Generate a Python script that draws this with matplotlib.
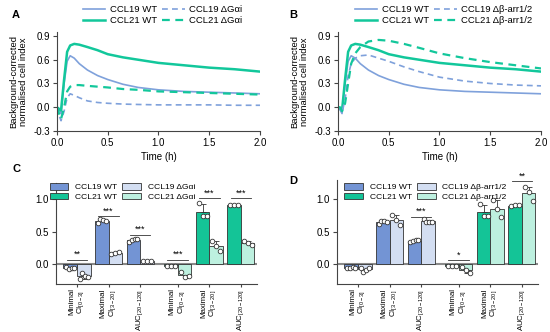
import numpy as np
import matplotlib
matplotlib.use("Agg")
import matplotlib.pyplot as plt
from matplotlib.patches import Patch
from matplotlib.lines import Line2D

plt.rcParams['font.family'] = ['Liberation Sans', 'DejaVu Sans']
plt.rcParams['mathtext.default'] = 'regular'

# ---- time courses (panels A, B) ----
t = [0, 0.02, 0.04, 0.07, 0.1, 0.13, 0.17, 0.22, 0.3, 0.4, 0.5, 0.65, 0.8, 1.0, 1.25, 1.5, 1.75, 2.0]
ccl19_wt = [0.0, -0.03, -0.08, 0.3, 0.58, 0.65, 0.62, 0.55, 0.47, 0.4, 0.35, 0.29, 0.25, 0.22, 0.2, 0.19, 0.18, 0.17]
ccl21_wt = [0.0, -0.02, -0.04, 0.35, 0.7, 0.78, 0.8, 0.79, 0.76, 0.72, 0.67, 0.63, 0.6, 0.56, 0.53, 0.5, 0.48, 0.45]
ccl19_gai = [0.0, -0.1, -0.17, -0.05, 0.12, 0.17, 0.15, 0.12, 0.08, 0.06, 0.05, 0.04, 0.035, 0.03, 0.03, 0.03, 0.025, 0.025]
ccl21_gai = [0.0, -0.08, -0.15, 0.0, 0.2, 0.26, 0.28, 0.28, 0.27, 0.26, 0.25, 0.23, 0.22, 0.2, 0.19, 0.18, 0.17, 0.16]
ccl19_arr = [0.0, -0.02, -0.07, 0.1, 0.4, 0.55, 0.62, 0.65, 0.66, 0.62, 0.58, 0.51, 0.45, 0.38, 0.33, 0.3, 0.28, 0.27]
ccl21_arr = [0.0, 0.0, -0.05, 0.05, 0.3, 0.55, 0.68, 0.76, 0.83, 0.85, 0.84, 0.8, 0.75, 0.68, 0.62, 0.57, 0.53, 0.49]

# ---- bar data (panels C, D): replicate points per parameter ----
params = ['Minimal\nCI$_{[0-3]}$', 'Maximal\nCI$_{[3-20]}$', 'AUC$_{[20-120]}$']

c19_wt = [[-0.04, -0.07, -0.06, -0.05], [0.63, 0.69, 0.67, 0.66], [0.34, 0.37, 0.38, 0.38]]
c19_gai = [[-0.22, -0.13, -0.18, -0.2], [0.16, 0.18, 0.19], [0.05, 0.05, 0.05]]
c21_wt = [[-0.02, -0.02, -0.03], [0.93, 0.74, 0.74], [0.9, 0.91, 0.91]]
c21_gai = [[-0.12, -0.19, -0.18], [0.36, 0.28, 0.2], [0.36, 0.33, 0.29]]

d19_wt = [[-0.06, -0.05, -0.04, -0.06], [0.62, 0.67, 0.66, 0.65], [0.34, 0.36, 0.37, 0.37]]
d19_arr = [[-0.06, -0.11, -0.08, -0.06], [0.75, 0.68, 0.6], [0.69, 0.64, 0.65, 0.65]]
d21_wt = [[-0.02, -0.03, -0.03], [0.93, 0.74, 0.74], [0.89, 0.9, 0.9]]
d21_arr = [[-0.04, -0.08, -0.13], [0.98, 0.85, 0.72], [1.18, 1.1, 0.97]]

sig_c = [(0, 0.07, '**'), (1, 0.73, '***'), (2, 0.45, '***'),
         (3, 0.07, '***'), (4, 1.01, '***'), (5, 1.01, '***')]
sig_d = [(2, 0.73, '***'), (3, 0.06, '*'), (5, 1.27, '**')]

blue = '#7fa1db'
green = '#12c79b'
bar_blue = '#7394d4'
bar_blue_l = '#d3def2'
bar_green = '#14c497'
bar_green_l = '#bdf0df'
edge = '#333333'

fig = plt.figure(figsize=(5.5, 3.32), dpi=100)


def style(ax):
    for s in ['top', 'right']:
        ax.spines[s].set_visible(False)
    for s in ['left', 'bottom']:
        ax.spines[s].set_linewidth(0.8)
        ax.spines[s].set_color('#444444')
    ax.tick_params(labelsize=7, width=0.8, length=3, color='#444444', pad=2)


def line_panel(rect, dashed19, dashed21, lab19, lab21, letter, lx):
    ax = fig.add_axes(rect)
    ax.plot(t, ccl19_wt, color=blue, lw=1.2)
    ax.plot(t, ccl21_wt, color=green, lw=1.8)
    ax.plot(t, dashed19, color=blue, lw=1.2, ls=(0, (3.5, 2.5)))
    ax.plot(t, dashed21, color=green, lw=1.6, ls=(0, (3.5, 2.5)))
    ax.set_xlim(0, 2.0)
    ax.set_ylim(-0.3, 0.95)
    ax.set_xticks([0, 0.5, 1.0, 1.5, 2.0])
    ax.set_xticklabels(['0.0', '0.5', '1.0', '1.5', '2.0'])
    ax.set_yticks([-0.3, 0.0, 0.3, 0.6, 0.9])
    ax.set_yticklabels(['-0.3', '0.0', '0.3', '0.6', '0.9'])
    style(ax)
    ax.set_xlabel('Time (h)', fontsize=7, labelpad=3)
    ax.set_ylabel('Background-corrected\nnormalised cell index', fontsize=6.8,
                  labelpad=4, linespacing=1.15)
    handles = [Line2D([], [], color=blue, lw=1.2),
               Line2D([], [], color=green, lw=1.8),
               Line2D([], [], color=blue, lw=1.2, ls=(0, (3.5, 2.5))),
               Line2D([], [], color=green, lw=1.6, ls=(0, (3.5, 2.5)))]
    labels = ['CCL19 WT', 'CCL21 WT', lab19, lab21]
    ax.legend(handles, labels, ncol=2, loc='center', bbox_to_anchor=(0.52, 1.17),
              frameon=False, fontsize=6.8, handlelength=2.4, handletextpad=0.5,
              columnspacing=0.5, labelspacing=0.15, borderpad=0)
    fig.text(lx, 0.955, letter, fontsize=8, fontweight='bold', va='center')
    return ax


line_panel([0.1036, 0.6054, 0.3691, 0.2982], ccl19_gai, ccl21_gai,
           'CCL19 ΔGαi', 'CCL21 ΔGαi', 'A', 0.022)
line_panel([0.6145, 0.6054, 0.3691, 0.2982], ccl19_arr, ccl21_arr,
           'CCL19 Δβ-arr1/2', 'CCL21 Δβ-arr1/2', 'B', 0.525)

centers = np.array([0, 1, 2, 3.2, 4.2, 5.2])
bw = 0.43


def bar_panel(rect, s19wt, s19m, s21wt, s21m, lab19, lab21, sig, ytop, leg_xy,
              letter, lx, ly):
    ax = fig.add_axes(rect)
    groups = [(s19wt, s19m, bar_blue, bar_blue_l, 0), (s21wt, s21m, bar_green, bar_green_l, 3)]
    for wt, mut, cw, cm, off in groups:
        for i in range(3):
            for k, (vals, col) in enumerate([(wt[i], cw), (mut[i], cm)]):
                x = centers[off + i] + (k - 0.5) * bw
                v = np.array(vals)
                m = v.mean()
                sd = v.std(ddof=1)
                ax.bar(x, m, width=bw, color=col, edgecolor=edge, lw=0.6, zorder=2)
                yerr = [[0], [sd]] if m >= 0 else [[sd], [0]]
                ax.errorbar(x, m, yerr=yerr, color=edge, lw=0.6, capsize=1.8,
                            capthick=0.6, zorder=3)
                n = len(v)
                jit = np.linspace(-0.13, 0.13, n) if n > 1 else [0]
                ax.scatter(x + np.array(jit), v, s=11, facecolor='white',
                           edgecolor=edge, lw=0.6, zorder=4)
    ax.axhline(0, color='#8a8a8a', lw=1.5, zorder=1)
    for g, y, txt in sig:
        ax.plot([centers[g] - 0.33, centers[g] + 0.33], [y, y], color=edge, lw=0.6)
        ax.text(centers[g], y + 0.01, txt, ha='center', va='bottom', fontsize=6.5)
    ax.set_xlim(-0.667, 5.71)
    ax.set_ylim(-0.3, ytop)
    ax.set_yticks([0.0, 0.5, 1.0])
    ax.set_yticklabels(['0.0', '0.5', '1.0'])
    ax.set_xticks(centers)
    ax.set_xticklabels(params * 2, rotation=90, linespacing=1.05)
    style(ax)
    ax.tick_params(axis='x', length=2, labelsize=5.7, pad=1.2)
    handles = [Patch(facecolor=bar_blue, edgecolor=edge, lw=0.6),
               Patch(facecolor=bar_green, edgecolor=edge, lw=0.6),
               Patch(facecolor=bar_blue_l, edgecolor=edge, lw=0.6),
               Patch(facecolor=bar_green_l, edgecolor=edge, lw=0.6)]
    ax.legend(handles, ['CCL19 WT', 'CCL21 WT', lab19, lab21], ncol=2, loc='center',
              bbox_to_anchor=leg_xy, frameon=False, fontsize=6.1, handlelength=2.2,
              handleheight=0.8, handletextpad=0.8, columnspacing=0.6,
              labelspacing=0.15, borderpad=0)
    fig.text(lx, ly, letter, fontsize=8, fontweight='bold', va='center')
    return ax


bar_panel([0.1018, 0.1446, 0.3655, 0.3042], c19_wt, c19_gai, c21_wt, c21_gai,
          'CCL19 ΔGαi', 'CCL21 ΔGαi', sig_c, 1.24, (0.33, 0.91), 'C', 0.022, 0.49)
bar_panel([0.6127, 0.1446, 0.3655, 0.3133], d19_wt, d19_arr, d21_wt, d21_arr,
          'CCL19 Δβ-arr1/2', 'CCL21 Δβ-arr1/2', sig_d, 1.29, (0.44, 0.885), 'D',
          0.525, 0.455)

fig.savefig('out.png', dpi=100)
